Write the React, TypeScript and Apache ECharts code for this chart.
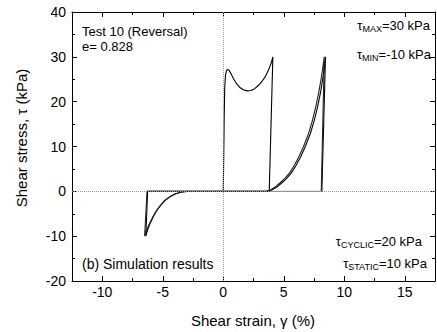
import { useEffect, useRef } from "react";
import * as echarts from "echarts";

// ---- axis ticks ----
const xMajorTicks = [-10, -5, 0, 5, 10, 15];
const yTicks = [-20, -10, 0, 10, 20, 30, 40];

// ---- cycle 1: first loading (0 -> 30 kPa) ----
const load1X = [0, 0.04, 0.08, 0.12, 0.18, 0.26, 0.36, 0.48, 0.65, 0.85, 1.1, 1.4, 1.7, 2.0, 2.3, 2.6, 2.9, 3.2, 3.5, 3.75, 3.95, 4.1];
const load1Y = [0, 8, 17, 23, 25.8, 26.9, 27.2, 27.0, 26.2, 25.1, 24.0, 23.1, 22.6, 22.4, 22.5, 22.9, 23.6, 24.5, 25.7, 27.1, 28.5, 30];
const unload1X = [4.1, 3.8];
const unload1Y = [30, 0];
// negative loading to -10 kPa (cycle 1)
const neg1X = [-3.0, -3.5, -4.0, -4.4, -4.8, -5.2, -5.5, -5.8, -6.05, -6.25, -6.4];
const neg1Y = [0, -0.2, -0.6, -1.2, -2.0, -3.2, -4.3, -5.8, -7.2, -8.6, -10];
const negUnload1X = [-6.4, -6.25];
const negUnload1Y = [-10, 0];
// reloading to 30 kPa (cycle 1)
const hard1X = [3.6, 4.0, 4.4, 4.8, 5.2, 5.6, 6.0, 6.4, 6.8, 7.2, 7.5, 7.8, 8.05, 8.25, 8.45];
const hard1Y = [0, 0.3, 0.9, 1.8, 2.8, 4.0, 5.7, 7.7, 10.1, 12.9, 15.6, 18.9, 22.2, 25.6, 30];
const unload2X = [8.45, 8.15];
const unload2Y = [30, 0];

// ---- cycle 2 ----
const neg2X = [-3.1, -3.6, -4.1, -4.5, -4.9, -5.3, -5.6, -5.9, -6.15, -6.35, -6.5];
const neg2Y = [0, -0.25, -0.7, -1.35, -2.2, -3.5, -4.6, -6.1, -7.5, -8.8, -10];
const negUnload2X = [-6.5, -6.3];
const negUnload2Y = [-10, 0];
const hard2X = [3.55, 3.9, 4.25, 4.65, 5.05, 5.45, 5.85, 6.25, 6.65, 7.05, 7.35, 7.65, 7.9, 8.12, 8.35];
const hard2Y = [0, 0.3, 0.9, 1.8, 2.8, 4.0, 5.7, 7.7, 10.1, 12.9, 15.6, 18.9, 22.2, 25.6, 30];
const unload3X = [8.35, 8.1];
const unload3Y = [30, 0];

const zip = (xs: number[], ys: number[]) => xs.map((x, i) => [x, ys[i]]);

const FONT = "'Liberation Sans', Arial, Helvetica, sans-serif";

export default function App() {
  const ref = useRef<HTMLDivElement>(null);

  useEffect(() => {
    if (!ref.current) return;
    const chart = echarts.init(ref.current, undefined, { renderer: "svg" });

    const cycle1 = [
      ...zip(load1X, load1Y),
      ...zip(unload1X, unload1Y).slice(1),
      ...zip(neg1X, neg1Y),
      ...zip(negUnload1X, negUnload1Y).slice(1),
      ...zip(hard1X, hard1Y),
      ...zip(unload2X, unload2Y).slice(1),
    ];
    const returnFlat = [zip(unload2X, unload2Y)[1], zip(neg2X, neg2Y)[0]];
    const cycle2 = [
      ...zip(neg2X, neg2Y),
      ...zip(negUnload2X, negUnload2Y).slice(1),
      ...zip(hard2X, hard2Y),
      ...zip(unload3X, unload3Y).slice(1),
    ];

    const xBase = { type: "value", min: -12.5, max: 17.5, splitLine: { show: false } };
    const axisLine = { show: true, onZero: false, lineStyle: { color: "#000", width: 1 } };
    const tickStyle = { color: "#000", width: 1 };

    const sub = { fontSize: 9, fontFamily: FONT, padding: [7, 0, 0, 0], fill: "#000", color: "#000" };
    const main = { fontSize: 13, fontFamily: FONT, color: "#000" };

    const text = (x: number, y: number, t: string, align: string, extra: any = {}) => ({
      type: "text",
      x,
      y,
      ...extra,
      style: {
        text: t,
        fill: "#000",
        font: `13px ${FONT}`,
        textAlign: align,
        textVerticalAlign: "middle",
        rich: { m: main, s: sub },
        ...(extra.style || {}),
      },
    });

    chart.setOption({
      animation: false,
      backgroundColor: "#fff",
      grid: { left: 72, right: 2, top: 12, bottom: 51 },
      xAxis: [
        {
          ...xBase,
          position: "bottom",
          axisLine,
          axisTick: { show: true, inside: true, length: 5, lineStyle: tickStyle, customValues: xMajorTicks },
          axisLabel: {
            show: true,
            customValues: xMajorTicks,
            color: "#000",
            fontSize: 14,
            fontFamily: FONT,
            margin: 4,
            formatter: (v: number) => (v % 5 === 0 ? String(v) : ""),
          },
        },
        {
          ...xBase,
          position: "bottom",
          interval: 2.5,
          axisLine: { show: false, onZero: false },
          axisTick: { show: true, inside: true, length: 3, lineStyle: tickStyle },
          axisLabel: { show: false },
        },
        {
          ...xBase,
          position: "top",
          axisLine,
          axisTick: { show: true, inside: true, length: 5, lineStyle: tickStyle, customValues: xMajorTicks },
          axisLabel: { show: false },
        },
        {
          ...xBase,
          position: "top",
          interval: 2.5,
          axisLine: { show: false, onZero: false },
          axisTick: { show: true, inside: true, length: 3, lineStyle: tickStyle },
          axisLabel: { show: false },
        },
      ],
      yAxis: [
        {
          type: "value",
          min: yTicks[0],
          max: yTicks[yTicks.length - 1],
          interval: 10,
          position: "left",
          splitLine: { show: false },
          axisLine,
          axisTick: { show: true, inside: true, length: 5, lineStyle: tickStyle },
          minorTick: { show: true, splitNumber: 2, length: 3, lineStyle: tickStyle },
          axisLabel: { color: "#000", fontSize: 14, fontFamily: FONT, margin: 6 },
        },
        {
          type: "value",
          min: yTicks[0],
          max: yTicks[yTicks.length - 1],
          interval: 10,
          position: "right",
          splitLine: { show: false },
          axisLine,
          axisTick: { show: true, inside: true, length: 5, lineStyle: tickStyle },
          minorTick: { show: true, splitNumber: 2, length: 3, lineStyle: tickStyle },
          axisLabel: { show: false },
        },
      ],
      series: [
        {
          type: "line",
          xAxisIndex: 0,
          yAxisIndex: 0,
          data: [],
          markLine: {
            silent: true,
            symbol: "none",
            label: { show: false },
            lineStyle: { type: "dotted", color: "#999", width: 1 },
            data: [{ xAxis: 0 }, { yAxis: 0 }],
          },
        },
        {
          type: "line",
          xAxisIndex: 0,
          yAxisIndex: 0,
          showSymbol: false,
          data: returnFlat,
          lineStyle: { color: "#777", width: 1 },
        },
        {
          type: "line",
          xAxisIndex: 0,
          yAxisIndex: 0,
          showSymbol: false,
          data: cycle1,
          lineStyle: { color: "#000", width: 1.1 },
        },
        {
          type: "line",
          xAxisIndex: 0,
          yAxisIndex: 0,
          showSymbol: false,
          data: cycle2,
          lineStyle: { color: "#222", width: 1.1 },
        },
      ],
      graphic: [
        text(82, 31, "Test 10 (Reversal)", "left"),
        text(82, 46, "e= 0.828", "left"),
        text(82, 264, "(b) Simulation results", "left", { style: { font: `14px ${FONT}` } }),
        text(430, 25, "{m|τ}{s|MAX}{m|=30 kPa}", "right"),
        text(431, 54, "{m|τ}{s|MIN}{m|=-10 kPa}", "right"),
        text(422, 241, "{m|τ}{s|CYCLIC}{m|=20 kPa}", "right"),
        text(427, 263, "{m|τ}{s|STATIC}{m|=10 kPa}", "right"),
        text(253, 320, "Shear strain, γ (%)", "center", { style: { font: `15px ${FONT}` } }),
        text(21, 138, "Shear stress, τ (kPa)", "center", {
          rotation: Math.PI / 2,
          style: { font: `15px ${FONT}` },
        }),
      ],
    });

    return () => chart.dispose();
  }, []);

  return (
    <div
      ref={ref}
      style={{ position: "absolute", left: 0, top: 0, width: 437, height: 332, background: "#fff" }}
    />
  );
}
